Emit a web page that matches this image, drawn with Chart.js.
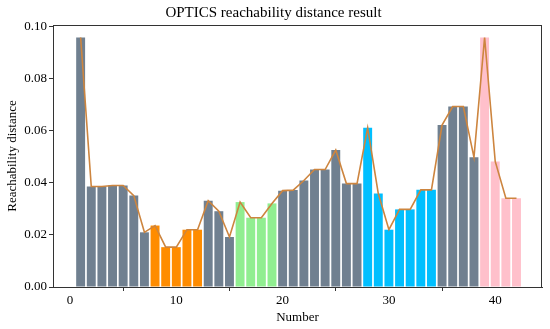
<!DOCTYPE html>
<html>
<head>
<meta charset="utf-8">
<script src="https://cdn.jsdelivr.net/npm/chart.js@4"></script>
<style>
  html, body { margin: 0; padding: 0; background: #fff; }
</style>
</head>
<body>
<canvas id="chart" width="550" height="329"></canvas>
<script>
// sample numbers 1..42
const points = Array.from({ length: 42 }, (_, i) => i + 1);

// reachability distance
const reachability = [
  0.0958, 0.0386, 0.0386, 0.0390, 0.0390, 0.0351, 0.0210, 0.0236, 0.0153, 0.0153,
  0.0220, 0.0220, 0.0331, 0.0291, 0.0192, 0.0326, 0.0266, 0.0266, 0.0321, 0.0370,
  0.0372, 0.0409, 0.0451, 0.0451, 0.0526, 0.0397, 0.0397, 0.0611, 0.0359, 0.0220,
  0.0298, 0.0298, 0.0373, 0.0373, 0.0622, 0.0693, 0.0693, 0.0498, 0.0958, 0.0482,
  0.0341, 0.0341
];

// cluster of each point (-1 = noise)
const clusters = [
  -1, -1, -1, -1, -1, -1, -1, 0, 0, 0,
  0, 0, -1, -1, -1, 1, 1, 1, 1, -1,
  -1, -1, -1, -1, -1, -1, -1, 2, 2, 2,
  2, 2, 2, 2, -1, -1, -1, -1, 3, 3,
  3, 3
];

const xTicks = [0, 10, 20, 30, 40];
const yTicks = [0, 0.02, 0.04, 0.06, 0.08, 0.10];

const clusterColors = {
  "-1": "#708090",
  "0": "#FF8C00",
  "1": "#90EE90",
  "2": "#00BFFF",
  "3": "#FFC0CB",
};

const FONT = "'Liberation Serif', 'Times New Roman', serif";

const frame = {
  id: "frame",
  afterDatasetsDraw(chart) {
    const { ctx, chartArea } = chart;
    ctx.save();
    ctx.strokeStyle = "#333";
    ctx.lineWidth = 1;
    ctx.strokeRect(chartArea.left + 0.5, chartArea.top + 0.5,
      chartArea.right - chartArea.left - 1, chartArea.bottom - chartArea.top);
    ctx.restore();
  },
};

const data = points.map((x, i) => ({ x, y: reachability[i] }));

new Chart(document.getElementById("chart"), {
  type: "bar",
  data: {
    datasets: [
      {
        type: "line",
        data: data,
        borderColor: "#CD853F",
        borderWidth: 1.6,
        pointRadius: 0,
        tension: 0,
        order: 0,
      },
      {
        type: "bar",
        data: data,
        backgroundColor: clusters.map((c) => clusterColors[c]),
        barPercentage: 0.84,
        categoryPercentage: 1,
        order: 1,
      },
    ],
  },
  plugins: [frame],
  options: {
    responsive: false,
    animation: false,
    layout: { padding: { left: 5, right: 8, top: 0, bottom: 4 } },
    plugins: {
      legend: { display: false },
      tooltip: { enabled: false },
      title: {
        display: true,
        text: "OPTICS reachability distance result",
        color: "#000",
        font: { family: FONT, size: 15, weight: "normal" },
        padding: { top: 4, bottom: 3 },
      },
    },
    scales: {
      x: {
        type: "linear",
        offset: false,
        min: -1.6,
        max: 44.4,
        afterBuildTicks: (axis) => { axis.ticks = xTicks.map((v) => ({ value: v })); },
        afterFit: (axis) => { axis.height = 38; },
        ticks: { color: "#000", font: { family: FONT, size: 13 }, padding: 2, maxRotation: 0 },
        grid: { drawOnChartArea: false, tickLength: 4, color: "#333" },
        border: { color: "#333" },
        title: {
          display: true,
          text: "Number",
          color: "#000",
          font: { family: FONT, size: 13 },
          padding: { top: 0, bottom: 0 },
        },
      },
      y: {
        min: 0,
        max: 0.1006,
        afterBuildTicks: (axis) => { axis.ticks = yTicks.map((v) => ({ value: v })); },
        afterFit: (axis) => { axis.width = 48; },
        ticks: {
          color: "#000",
          font: { family: FONT, size: 13 },
          padding: 2,
          callback: (v) => Number(v).toFixed(2),
        },
        grid: { drawOnChartArea: false, tickLength: 4, color: "#333" },
        border: { color: "#333" },
        title: {
          display: true,
          text: "Reachability distance",
          color: "#000",
          font: { family: FONT, size: 13 },
          padding: { top: 0, bottom: 2 },
        },
      },
    },
  },
});
</script>
</body>
</html>
